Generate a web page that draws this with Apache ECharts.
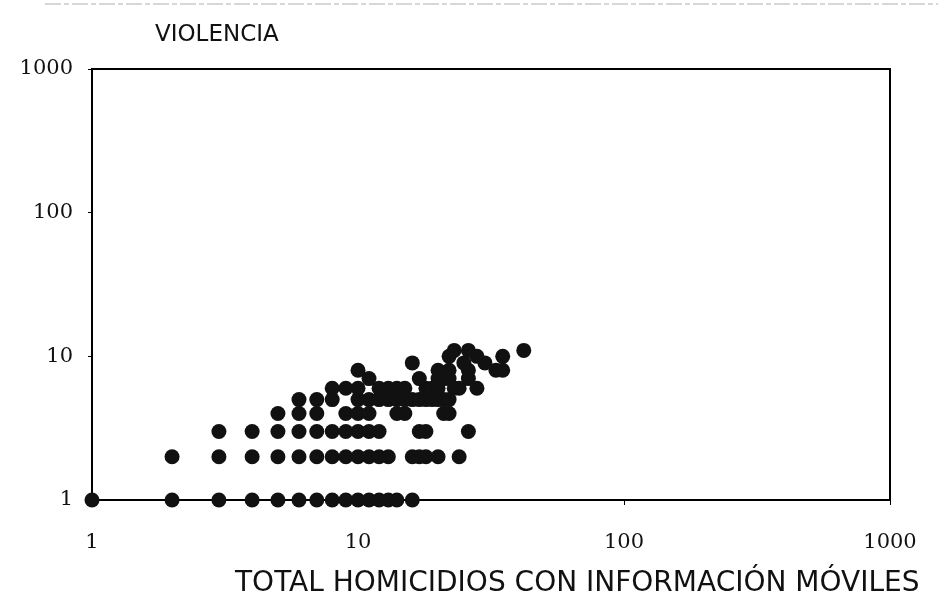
<!DOCTYPE html>
<html>
<head>
<meta charset="utf-8">
<script src="https://cdn.jsdelivr.net/npm/echarts@6/dist/echarts.min.js"></script>
<style>
html,body{margin:0;padding:0;background:#fff;}
#chart{width:938px;height:611px;}
</style>
</head>
<body>
<div id="chart"></div>
<script>
// Violencia levels (y) and the homicide totals (x) observed at each level
const violenciaLevels = [1, 2, 3, 4, 5, 6, 7, 8, 9, 10, 11];
const homicidiosY1  = [1, 2, 3, 4, 5, 6, 7, 8, 9, 10, 11, 12, 13, 14, 16];
const homicidiosY2  = [2, 3, 4, 5, 6, 7, 8, 9, 10, 11, 12, 13, 16, 17, 18, 20, 24];
const homicidiosY3  = [3, 4, 5, 6, 7, 8, 9, 10, 11, 12, 17, 18, 26];
const homicidiosY4  = [5, 6, 7, 9, 10, 11, 14, 15, 21, 22];
const homicidiosY5  = [6, 7, 8, 10, 11, 12, 13, 14, 15, 16, 17, 18, 19, 20, 21, 22];
const homicidiosY6  = [8, 9, 10, 12, 13, 14, 15, 18, 19, 20, 23, 24, 28];
const homicidiosY7  = [11, 17, 20, 21, 22, 26];
const homicidiosY8  = [10, 20, 22, 26, 33, 35];
const homicidiosY9  = [16, 25, 30];
const homicidiosY10 = [22, 28, 35];
const homicidiosY11 = [23, 26, 42];
const homicidiosByLevel = [homicidiosY1, homicidiosY2, homicidiosY3, homicidiosY4, homicidiosY5,
  homicidiosY6, homicidiosY7, homicidiosY8, homicidiosY9, homicidiosY10, homicidiosY11];
const axisTicks = [1, 10, 100, 1000];
const yTitle = 'VIOLENCIA';
const xTitle = 'TOTAL HOMICIDIOS CON INFORMACIÓN MÓVILES';

const points = [];
violenciaLevels.forEach((lv, i) => {
  homicidiosByLevel[i].forEach(x => points.push([x, lv]));
});

const numFont = '"DejaVu Serif", serif';
const txtFont = '"DejaVu Sans", sans-serif';

const chart = echarts.init(document.getElementById('chart'));
chart.setOption({
  backgroundColor: '#fff',
  animation: false,
  title: [
    { text: yTitle, left: 150, top: 19,
      textStyle: { fontFamily: txtFont, fontSize: 23, fontWeight: 'normal', color: '#111' } },
    { text: xTitle, left: 230, top: 565,
      textStyle: { fontFamily: txtFont, fontSize: 28, fontWeight: 'normal', color: '#111' } }
  ],
  grid: { left: 92, right: 48, top: 69, bottom: 111, show: true,
    borderColor: '#000', borderWidth: 2, backgroundColor: 'transparent' },
  xAxis: {
    type: 'log', logBase: 10, min: axisTicks[0], max: axisTicks[axisTicks.length - 1],
    splitLine: { show: false },
    axisLine: { lineStyle: { color: '#000', width: 2 } },
    axisTick: { show: true, length: 5, lineStyle: { color: '#000' } },
    minorTick: { show: false },
    axisLabel: { fontFamily: numFont, fontSize: 21, color: '#111', margin: 32,
      formatter: v => String(Math.round(v)) }
  },
  yAxis: {
    type: 'log', logBase: 10, min: axisTicks[0], max: axisTicks[axisTicks.length - 1],
    splitLine: { show: false },
    axisLine: { lineStyle: { color: '#000', width: 2 } },
    axisTick: { show: true, length: 4, lineStyle: { color: '#000' } },
    axisLabel: { fontFamily: numFont, fontSize: 21, color: '#111', margin: 19,
      formatter: v => String(Math.round(v)) }
  },
  graphic: [
    { type: 'line', shape: { x1: 45, y1: 4, x2: 938, y2: 4 },
      style: { stroke: '#b0b0b0', lineWidth: 1.2, lineDash: [16, 3, 5, 3] } }
  ],
  series: [{
    type: 'scatter',
    data: points,
    symbol: 'circle',
    symbolSize: 15,
    itemStyle: { color: '#111', opacity: 1 },
    clip: false
  }]
});
</script>
</body>
</html>
